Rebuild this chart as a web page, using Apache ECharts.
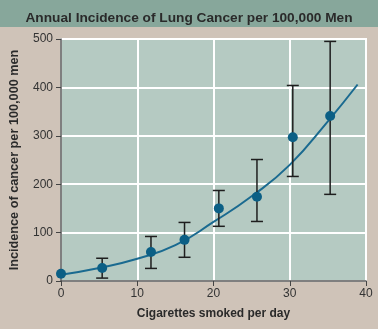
<!DOCTYPE html>
<html><head><meta charset="utf-8">
<script src="https://cdn.jsdelivr.net/npm/echarts@6/dist/echarts.min.js"></script>
<style>html,body{margin:0;padding:0;background:#cfc3b8}#c{width:378px;height:329px}</style>
</head><body><div id="c"></div>
<script>
var titleText = 'Annual Incidence of Lung Cancer per 100,000 Men';
var xName = 'Cigarettes smoked per day';
var yName = 'Incidence of cancer per 100,000 men';
// observed points
var cigs = [0, 5.4, 11.8, 16.2, 20.7, 25.7, 30.4, 35.3];
var incidence = [15, 27, 60, 85, 150, 174, 297, 341];
var errLow = [15, 6, 26, 49, 113, 123, 216, 179];
var errHigh = [15, 47, 92, 121, 187, 251, 404, 495];
var hasErr = [false, true, true, true, true, true, true, true];
// fitted curve
var curveX = [0, 5, 10, 15, 20, 25, 30, 35, 38.9];
var curveY = [13, 27, 46, 74, 122, 175, 240, 330, 406];

var pts = cigs.map(function(x, i){ return [x, incidence[i]]; });
var errs = [];
cigs.forEach(function(x, i){ if (hasErr[i]) errs.push([x, errLow[i], errHigh[i]]); });
var curve = curveX.map(function(x, i){ return [x, curveY[i]]; });

var chart = echarts.init(document.getElementById('c'));
var font = 'Liberation Sans, Arial, Helvetica, sans-serif';
chart.setOption({
  backgroundColor: '#cfc3b8',
  animation: false,
  graphic: [
    {type: 'rect', left: 0, top: 0, shape: {width: 378, height: 27}, style: {fill: '#87a79b'}, z: 0}
  ],
  title: {
    text: titleText, left: 'center', top: 6,
    textStyle: {fontFamily: font, fontSize: 13.7, fontWeight: 'bold', color: '#2a2a2a'}
  },
  grid: {left: 61, right: 12, top: 39, bottom: 48, show: true, backgroundColor: '#b5cac2', borderColor: '#ffffff', borderWidth: 2},
  xAxis: {
    type: 'value', min: 0, max: 40, interval: 10,
    name: xName, nameLocation: 'middle', nameGap: 27,
    nameTextStyle: {fontFamily: font, fontSize: 12, fontWeight: 'bold', color: '#2a2a2a'},
    axisLine: {show: true, lineStyle: {color: '#555', width: 1.5}},
    axisTick: {show: true, length: 5, lineStyle: {color: '#444'}},
    axisLabel: {fontFamily: font, fontSize: 12, color: '#333', margin: 7},
    splitLine: {show: true, lineStyle: {color: '#ffffff', width: 2}}
  },
  yAxis: {
    type: 'value', min: 0, max: 500, interval: 100,
    name: yName, nameLocation: 'middle', nameGap: 40,
    nameTextStyle: {fontFamily: font, fontSize: 12.7, fontWeight: 'bold', color: '#2a2a2a'},
    axisLine: {show: true, lineStyle: {color: '#555', width: 1.5}},
    axisTick: {show: true, length: 5, lineStyle: {color: '#444'}},
    axisLabel: {fontFamily: font, fontSize: 12, color: '#333', margin: 8},
    splitLine: {show: true, lineStyle: {color: '#ffffff', width: 2}}
  },
  series: [
    {
      type: 'line', data: curve, smooth: true, showSymbol: false,
      lineStyle: {color: '#1a6a90', width: 2}, z: 3
    },
    {
      type: 'custom', data: errs, z: 4,
      renderItem: function(params, api){
        var x = api.value(0);
        var lo = api.coord([x, api.value(1)]);
        var hi = api.coord([x, api.value(2)]);
        var cap = 6;
        var st = {stroke: '#1e1e1e', lineWidth: 1.5};
        return {type: 'group', children: [
          {type: 'line', shape: {x1: lo[0], y1: lo[1], x2: hi[0], y2: hi[1]}, style: st},
          {type: 'line', shape: {x1: lo[0]-cap, y1: lo[1], x2: lo[0]+cap, y2: lo[1]}, style: st},
          {type: 'line', shape: {x1: hi[0]-cap, y1: hi[1], x2: hi[0]+cap, y2: hi[1]}, style: st}
        ]};
      }
    },
    {
      type: 'scatter', data: pts, symbolSize: 10, z: 5,
      itemStyle: {color: '#0b5f85', opacity: 1}
    }
  ]
});
</script></body></html>
